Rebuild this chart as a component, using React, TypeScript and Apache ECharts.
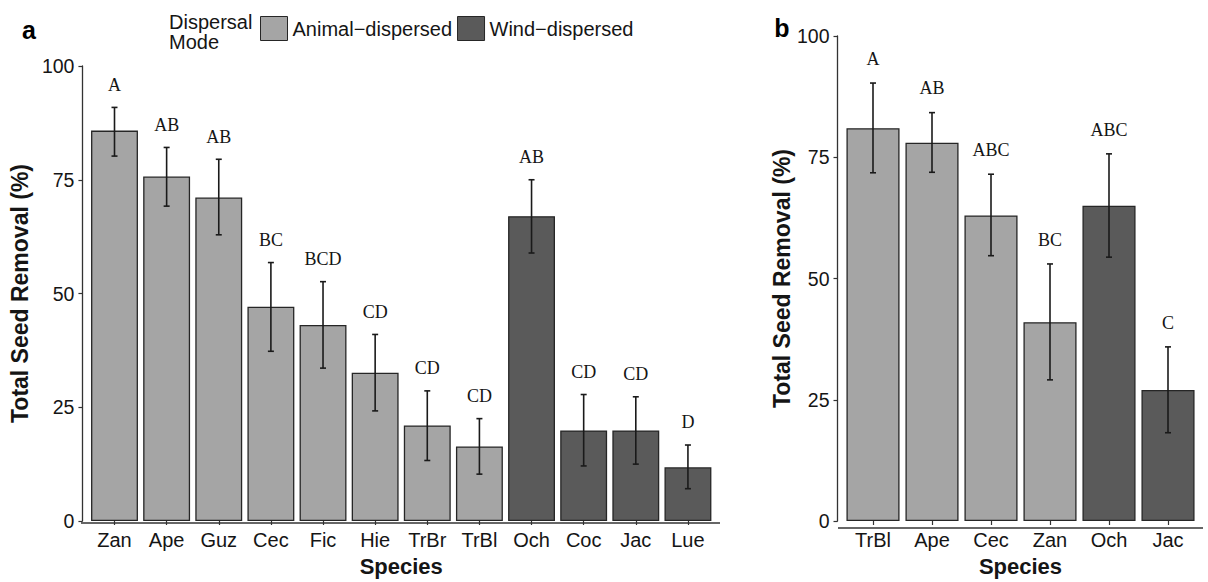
import React, { useEffect, useRef } from "react";
import * as echarts from "echarts";

// ---------- Data ----------
const catsA = ["Zan", "Ape", "Guz", "Cec", "Fic", "Hie", "TrBr", "TrBl", "Och", "Coc", "Jac", "Lue"];
const modeA = ["A", "A", "A", "A", "A", "A", "A", "A", "W", "W", "W", "W"];
const meanA = [85.8, 75.7, 71.1, 47.1, 43.1, 32.6, 21.0, 16.4, 67.0, 19.9, 19.9, 11.8];
const lowerA = [80.2, 69.2, 62.9, 37.3, 33.6, 24.2, 13.3, 10.3, 58.9, 12.1, 12.5, 7.1];
const upperA = [90.9, 82.1, 79.5, 56.8, 52.6, 41.0, 28.6, 22.5, 75.0, 27.8, 27.3, 16.7];
const lettersA = ["A", "AB", "AB", "BC", "BCD", "CD", "CD", "CD", "AB", "CD", "CD", "D"];

const catsB = ["TrBl", "Ape", "Cec", "Zan", "Och", "Jac"];
const modeB = ["A", "A", "A", "A", "W", "W"];
const meanB = [81.0, 78.0, 63.0, 41.0, 65.0, 27.0];
const lowerB = [71.8, 71.9, 54.7, 29.1, 54.4, 18.2];
const upperB = [90.3, 84.2, 71.5, 53.0, 75.7, 35.9];
const lettersB = ["A", "AB", "ABC", "BC", "ABC", "C"];

const yTicks = [0, 25, 50, 75, 100];
const ANIMAL = "Animal\u2212dispersed";
const WIND = "Wind\u2212dispersed";
const LABEL_GAP = 5; // letters sit this many % above the error bar

// ---------- Styles ----------
const LIGHT = "#a5a5a5";
const DARK = "#5a5a5a";
const EDGE = "#262626";
const AXIS = "#333333";
const TXT = "#151515";
const SANS = "'Liberation Sans', Arial, sans-serif";
const SERIF = "'Liberation Serif', 'Times New Roman', serif";

function makeErrSeries(gridIdx: number, lower: number[], upper: number[], letters: string[]) {
  return {
    type: "custom",
    xAxisIndex: gridIdx,
    yAxisIndex: gridIdx,
    z: 10,
    silent: true,
    data: lower.map((l, i) => [i, l, upper[i]]),
    renderItem: (params: any, api: any) => {
      const i = api.value(0);
      const lo = api.value(1);
      const hi = api.value(2);
      const pLo = api.coord([i, lo]);
      const pHi = api.coord([i, hi]);
      const pLab = api.coord([i, hi + LABEL_GAP]);
      const cap = 3;
      const st = { stroke: "#1a1a1a", lineWidth: 1.6 };
      return {
        type: "group",
        children: [
          { type: "line", shape: { x1: pLo[0], y1: pLo[1], x2: pHi[0], y2: pHi[1] }, style: st },
          { type: "line", shape: { x1: pLo[0] - cap, y1: pLo[1], x2: pLo[0] + cap, y2: pLo[1] }, style: st },
          { type: "line", shape: { x1: pHi[0] - cap, y1: pHi[1], x2: pHi[0] + cap, y2: pHi[1] }, style: st },
          {
            type: "text",
            x: pLab[0],
            y: pLab[1],
            style: {
              text: letters[params.dataIndex],
              align: "center",
              verticalAlign: "middle",
              font: `18px ${SERIF}`,
              fill: TXT,
            },
          },
        ],
      };
    },
  };
}

function barSeries(gridIdx: number, name: string, key: string, mode: string[], mean: number[], color: string) {
  return {
    type: "bar",
    name,
    xAxisIndex: gridIdx,
    yAxisIndex: gridIdx,
    barWidth: "90%",
    barGap: "-100%",
    itemStyle: { color, borderColor: EDGE, borderWidth: 1.3 },
    data: mean.map((v, i) => (mode[i] === key ? v : "-")),
  };
}

function xAx(gridIdx: number, cats: string[]) {
  return {
    type: "category",
    gridIndex: gridIdx,
    data: cats,
    axisLine: { show: false },
    axisTick: { show: true, alignWithLabel: true, length: 4, lineStyle: { color: AXIS, width: 1.2 } },
    axisLabel: { fontSize: 20, color: TXT, fontFamily: SANS, margin: 9, interval: 0 },
    name: "Species",
    nameLocation: "middle",
    nameGap: 34,
    nameTextStyle: { fontSize: 22, fontWeight: "bold", color: TXT, fontFamily: SANS },
  };
}

function yAx(gridIdx: number, gap: number) {
  return {
    type: "value",
    gridIndex: gridIdx,
    min: yTicks[0],
    max: yTicks[yTicks.length - 1],
    interval: 25,
    offset: 6,
    splitLine: { show: false },
    axisLine: { show: true, lineStyle: { color: AXIS, width: 1.3 } },
    axisTick: { show: true, length: 4, lineStyle: { color: AXIS, width: 1.2 } },
    axisLabel: { fontSize: 19.5, color: TXT, fontFamily: SANS, margin: 8 },
    name: "Total Seed Removal (%)",
    nameLocation: "middle",
    nameGap: gap,
    nameTextStyle: { fontSize: 23, fontWeight: "bold", color: TXT, fontFamily: SANS },
  };
}

export default function App() {
  const ref = useRef<HTMLDivElement>(null);
  useEffect(() => {
    if (!ref.current) return;
    const chart = echarts.init(ref.current, null, { renderer: "svg" });
    chart.setOption({
      animation: false,
      backgroundColor: "#ffffff",
      grid: [
        { left: 87, top: 66, width: 627, height: 457 },
        { left: 843.5, top: 36, width: 354, height: 492 },
      ],
      legend: {
        left: 255,
        top: 11,
        itemWidth: 27,
        itemHeight: 24,
        itemGap: 5,
        icon: "rect",
        selectedMode: false,
        textStyle: { fontSize: 20, color: TXT, fontFamily: SANS, padding: [0, 0, 0, 0] },
        data: [
          { name: ANIMAL, itemStyle: { color: LIGHT, borderColor: EDGE, borderWidth: 1 } },
          { name: WIND, itemStyle: { color: DARK, borderColor: EDGE, borderWidth: 1 } },
        ],
      },
      xAxis: [xAx(0, catsA), xAx(1, catsB)],
      yAxis: [yAx(0, 36), yAx(1, 43)],
      series: [
        barSeries(0, ANIMAL, "A", modeA, meanA, LIGHT),
        barSeries(0, WIND, "W", modeA, meanA, DARK),
        barSeries(1, ANIMAL, "A", modeB, meanB, LIGHT),
        barSeries(1, WIND, "W", modeB, meanB, DARK),
        makeErrSeries(0, lowerA, upperA, lettersA),
        makeErrSeries(1, lowerB, upperB, lettersB),
      ],
      graphic: [
        { type: "line", shape: { x1: 81, y1: 523, x2: 720, y2: 523 }, style: { stroke: AXIS, lineWidth: 1.3 }, z: 20 },
        { type: "line", shape: { x1: 838, y1: 528, x2: 1203, y2: 528 }, style: { stroke: AXIS, lineWidth: 1.3 }, z: 20 },
        {
          type: "text",
          left: 169,
          top: 12,
          style: { text: "Dispersal\nMode", font: `20px ${SANS}`, fill: TXT, lineHeight: 20 },
        },
        {
          type: "text",
          x: 29,
          y: 30,
          style: { text: "a", font: `bold 25px ${SANS}`, fill: "#000", align: "center", verticalAlign: "middle" },
        },
        {
          type: "text",
          x: 782,
          y: 28,
          style: { text: "b", font: `bold 25px ${SANS}`, fill: "#000", align: "center", verticalAlign: "middle" },
        },
      ],
    });
    return () => chart.dispose();
  }, []);
  return <div ref={ref} style={{ position: "fixed", left: 0, top: 0, width: 1208, height: 582 }} />;
}
